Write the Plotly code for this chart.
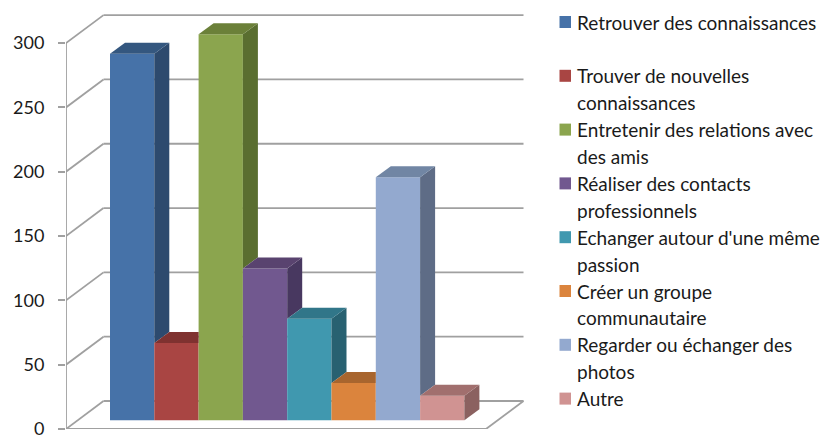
import plotly.graph_objects as go

# ---- data ----
CATEGORIES = [
    ["Retrouver des connaissances"],
    ["Trouver de nouvelles", "connaissances"],
    ["Entretenir des relations avec", "des amis"],
    ["Réaliser des contacts", "professionnels"],
    ["Echanger autour d'une même", "passion"],
    ["Créer un groupe", "communautaire"],
    ["Regarder ou échanger des", "photos"],
    ["Autre"],
]
VALUES = [285, 60, 300, 118, 79, 29, 189, 19]
TICKS = [0, 50, 100, 150, 200, 250, 300]
FRONT = ["#4672A8", "#A94543", "#8BA54E", "#71588F", "#4098AF", "#DB843D", "#93A9CF", "#D09392"]
TOP = ["#34577F", "#7F3230", "#6B8039", "#59436F", "#317689", "#A8652E", "#7186A4", "#A16F6E"]
SIDE = ["#2D4A6E", "#6E2B2A", "#5A6E30", "#483860", "#286171", "#8F5527", "#5E6C86", "#8B6160"]

# ---- oblique projection, in axis units ----
W, H = 826, 437
PX_X = 44.3           # pixels per category
PX_Y = 1.2863         # pixels per value unit
L, R, T, B = 66, 530, 5, 429
BASE = 6.8            # bars stand this far above the front floor edge
BAR_DX, BAR_DY = 15 / PX_X, 11 / PX_Y
WALL_DX, WALL_DY = 37.5 / PX_X, 28 / PX_Y
X0 = (L - 110) / PX_X
XF = (486 - 110) / PX_X
TOP_V = TICKS[-1]
GRID = dict(color="#A0A0A0", width=1.8)

fig = go.Figure()

# gridlines on the two walls, floor outline: shapes so they sit below the columns
shapes = []
def seg(x0, y0, x1, y1):
    shapes.append(dict(type="line", xref="x", yref="y", x0=x0, y0=y0, x1=x1, y1=y1,
                       line=GRID, layer="below"))
for t in TICKS:
    seg(X0, t, X0 + WALL_DX, t + WALL_DY)
    seg(X0 + WALL_DX, t + WALL_DY, XF + WALL_DX, t + WALL_DY)
seg(X0, 0, X0, TOP_V)
seg(X0, 0, XF, 0)
seg(XF, 0, XF + WALL_DX, WALL_DY)

# front faces
for i, v in enumerate(VALUES):
    fig.add_trace(go.Bar(x=[i + 0.5], y=[v], base=[BASE], width=[1], name=" ".join(CATEGORIES[i]),
                         marker=dict(color=FRONT[i], line=dict(width=0)), showlegend=False))

# top and side faces, left to right, clipped by the next column's front
for i, v in enumerate(VALUES):
    t = BASE + v
    nxt = BASE + VALUES[i + 1] if i + 1 < len(VALUES) else BASE
    if nxt < t:
        fig.add_trace(go.Scatter(
            x=[i + 1, i + 1 + BAR_DX, i + 1 + BAR_DX, i + 1, i + 1],
            y=[t, t + BAR_DY, nxt + BAR_DY, nxt, t],
            mode="lines", fill="toself", fillcolor=SIDE[i], line=dict(width=0),
            showlegend=False, hoverinfo="skip"))
        tx = [i, i + 1, i + 1 + BAR_DX, i + BAR_DX, i]
        ty = [t, t, t + BAR_DY, t + BAR_DY, t]
    else:
        tx = [i, i + 1, i + 1, i + BAR_DX, i]
        ty = [t, t, t + BAR_DY, t + BAR_DY, t]
    fig.add_trace(go.Scatter(x=tx, y=ty, mode="lines", fill="toself", fillcolor=TOP[i],
                             line=dict(width=0), showlegend=False, hoverinfo="skip"))

# legend: fixed 27 px line pitch, which the native legend cannot do
ROW0, ROW = 22, 26.9
notes = []
for i, lines in enumerate(CATEGORIES):
    yc = ROW0 + 2 * i * ROW
    shapes.append(dict(type="rect", xref="paper", yref="paper",
                       x0=(559.5 - L) / (R - L), x1=(571 - L) / (R - L),
                       y0=(B - yc - 6) / (B - T), y1=(B - yc + 6) / (B - T),
                       fillcolor=FRONT[i], line=dict(width=0)))
    for j, line in enumerate(lines):
        notes.append(dict(text=line, xref="paper", yref="paper", showarrow=False,
                          x=(575 - L) / (R - L), y=(B - yc - j * ROW) / (B - T),
                          xanchor="left", yanchor="middle", align="left",
                          font=dict(family="Lato", size=19, color="#1A1A1A")))

fig.update_layout(
    width=W, height=H, autosize=False,
    margin=dict(l=L, r=W - R, t=T, b=H - B, pad=0, autoexpand=False),
    paper_bgcolor="white", plot_bgcolor="white", showlegend=False, barmode="overlay",
    shapes=shapes, annotations=notes,
    xaxis=dict(range=[(L - 110) / PX_X, (R - 110) / PX_X], visible=False, fixedrange=True),
    yaxis=dict(range=[0, (B - T) / PX_Y], tickmode="array", tickvals=TICKS,
               ticktext=[str(t) for t in TICKS], showgrid=False, zeroline=False, showline=False,
               ticks="outside", ticklen=7, tickwidth=1.5, tickcolor="#A0A0A0",
               ticklabelstandoff=10, ticklabeloverflow="allow", automargin=False,
               tickfont=dict(family="Lato", size=18, color="#1A1A1A"),
               fixedrange=True),
)
fig.write_html("out.html", config=dict(displayModeBar=False),
               post_script="document.body.style.margin='0';document.documentElement.style.overflow='hidden';")
